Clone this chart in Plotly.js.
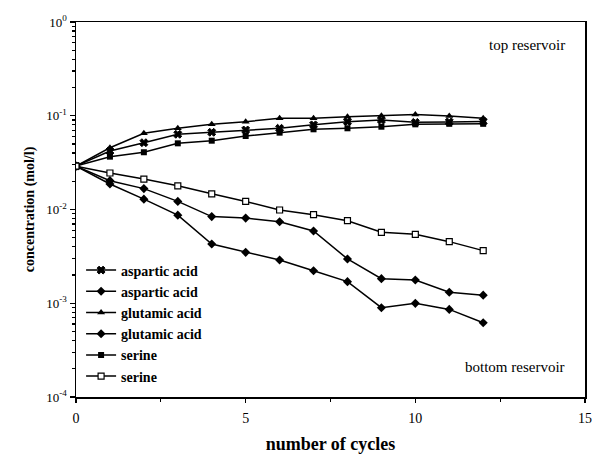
<!DOCTYPE html>
<html><head><meta charset="utf-8">
<script src="https://cdn.plot.ly/plotly-3.0.1.min.js"></script>
<style>html,body{margin:0;padding:0;background:#fff}#chart{width:592px;height:456px}</style>
</head><body><div id="chart"></div>
<script>
const cycles = [0,1,2,3,4,5,6,7,8,9,10,11,12];
const aspTop = [0.029,0.042,0.0516,0.0634,0.0666,0.0705,0.0735,0.080,0.0864,0.090,0.085,0.086,0.087];
const aspBottom = [0.029,0.0203,0.0167,0.0122,0.0084,0.0081,0.0074,0.0059,0.00297,0.00183,0.00177,0.00131,0.00122];
const gluTop = [0.029,0.0456,0.065,0.0735,0.081,0.0864,0.094,0.094,0.0977,0.100,0.103,0.0994,0.094];
const gluBottom = [0.029,0.0187,0.0129,0.0087,0.00428,0.00349,0.00289,0.00222,0.0017,0.000897,0.000998,0.00086,0.00062];
const serTop = [0.029,0.0366,0.0408,0.0508,0.0542,0.0608,0.066,0.0717,0.0735,0.0764,0.081,0.082,0.082];
const serBottom = [0.029,0.0245,0.0211,0.0179,0.0147,0.0122,0.00988,0.0088,0.0076,0.00571,0.00543,0.00454,0.00364];
const seriesNames = ["aspartic acid","aspartic acid","glutamic acid","glutamic acid","serine","serine"];
const yTickVals = [1e-4,1e-3,1e-2,1e-1,1];
const yTickText = ["10<sup>-4</sup>","10<sup>-3</sup>","10<sup>-2</sup>","10<sup>-1</sup>","10<sup>0</sup>"];
const xTickVals = [0,5,10,15];

const yMinor = [];
for (let e = -4; e < 0; e++) for (let d = 2; d <= 9; d++) yMinor.push(d * Math.pow(10, e));

const serif = "Liberation Serif, Times New Roman, serif";
function tr(y, name, sym, size, fill){
  return {x: cycles, y: y, name: name, type:'scatter', mode:'lines+markers',
    line:{color:'black', width:1.5},
    marker:{symbol:sym, size:size, color: fill||'black', line:{color:'black', width: fill? 1.2 : (sym==='x'?1:0)}}};
}
const data = [
  tr(aspTop, seriesNames[0], 'x', 7),
  tr(aspBottom, seriesNames[1], 'diamond', 7),
  tr(gluTop, seriesNames[2], 'triangle-up', 7),
  tr(gluBottom, seriesNames[3], 'diamond', 7),
  tr(serTop, seriesNames[4], 'square', 6),
  tr(serBottom, seriesNames[5], 'square', 6, 'white')
];
const layout = {
  width:592, height:456,
  margin:{l:76, r:7, t:22, b:59},
  paper_bgcolor:'white', plot_bgcolor:'white',
  font:{family:serif, color:'black', size:13},
  showlegend:true,
  legend:{x:0.01, y:0.38, xanchor:'left', yanchor:'top', bgcolor:'rgba(0,0,0,0)',
    font:{family:serif, size:14, color:'black', weight:'bold'}, tracegroupgap:0},
  xaxis:{range:[0,15], tickvals:xTickVals, ticks:'outside', ticklen:4, tickwidth:1.2, tickcolor:'black',
    showline:true, mirror:true, linecolor:'black', linewidth:1.5, showgrid:false, zeroline:false,
    tickfont:{family:serif, size:14}, ticklabelstandoff:4,
    minor:{tickmode:'linear', tick0:0, dtick:2.5, ticks:'outside', ticklen:3, tickcolor:'black', showgrid:false},
    title:{text:'<b>number of cycles</b>', font:{family:serif, size:18}, standoff:12}},
  yaxis:{type:'log', range:[-4,0], tickvals:yTickVals, ticktext:yTickText, ticks:'outside', ticklen:5, tickwidth:1.2, tickcolor:'black',
    showline:true, mirror:true, linecolor:'black', linewidth:1.5, showgrid:false, zeroline:false,
    tickfont:{family:serif, size:13},
    minor:{tickmode:'array', tickvals:yMinor, ticks:'outside', ticklen:3, tickcolor:'black', showgrid:false},
    title:{text:'<b>concentration (mol/l)</b>', font:{family:serif, size:14}, standoff:8}},
  annotations:[
    {xref:'paper', yref:'paper', x:0.965, y:0.94, xanchor:'right', yanchor:'middle', text:'top reservoir', showarrow:false, font:{family:serif, size:15}},
    {xref:'paper', yref:'paper', x:0.965, y:0.08, xanchor:'right', yanchor:'middle', text:'bottom reservoir', showarrow:false, font:{family:serif, size:15}}
  ]
};
Plotly.newPlot('chart', data, layout, {displayModeBar:false, staticPlot:true});
</script></body></html>
